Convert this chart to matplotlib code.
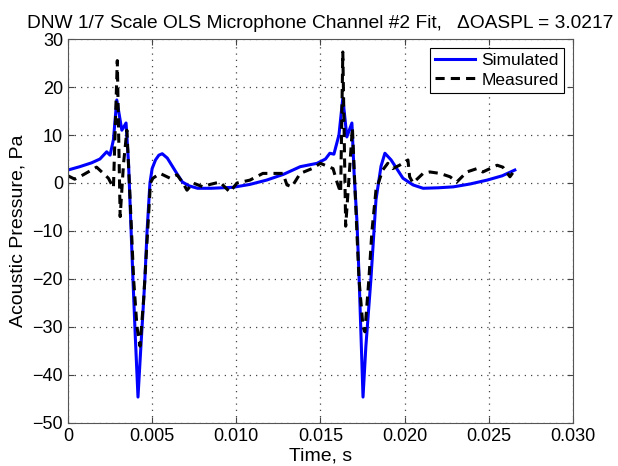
import numpy as np
import matplotlib
matplotlib.use("Agg")
import matplotlib.pyplot as plt

plt.rcParams['font.family'] = ['Liberation Sans', 'DejaVu Sans']

# simulated pressure signature (Pa) vs time (s)
t_sim = [0.0, 0.0007, 0.0014, 0.0019, 0.0023, 0.0025, 0.0027, 0.0029, 0.0032, 0.00345,
         0.0036, 0.00368, 0.00386, 0.0040, 0.00416, 0.0043, 0.00457, 0.0047, 0.00487,
         0.0050, 0.0052, 0.0054, 0.0056, 0.0059, 0.0062, 0.0065, 0.0068, 0.0072, 0.0077,
         0.0085, 0.0098, 0.0108, 0.0118, 0.0128, 0.0138, 0.0148, 0.0153, 0.01556, 0.0158,
         0.0161, 0.01633, 0.01657, 0.01687, 0.0170, 0.01717, 0.0173, 0.01753, 0.0177,
         0.0180, 0.0182, 0.0183, 0.0186, 0.01883, 0.0192, 0.0199, 0.0205, 0.0211,
         0.0220, 0.0229, 0.0239, 0.0249, 0.0258, 0.02655]
p_sim = [2.7, 3.4, 4.2, 5.0, 6.5, 5.8, 9.0, 17.3, 11.0, 12.5,
         4.0, -3.5, -20.0, -32.0, -44.6, -36.0, -20.0, -10.0, 0.0,
         3.0, 4.8, 5.8, 6.1, 5.2, 3.5, 1.8, 0.2, -0.6, -1.1,
         -1.1, -0.9, -0.3, 0.6, 1.8, 3.4, 4.1, 5.0, 6.2, 6.0,
         10.0, 17.7, 9.6, 12.5, 2.0, -8.0, -20.0, -44.6, -34.0,
         -20.0, -9.0, -3.5, 3.5, 6.2, 4.8, 1.0, -0.4, -1.1,
         -1.0, -0.8, -0.2, 0.6, 1.5, 2.7]

# measured microphone signal
t_meas = [0.0, 0.0004, 0.0008, 0.0013, 0.0017, 0.0021, 0.0024, 0.0027, 0.00293, 0.0031,
          0.0033, 0.0035, 0.0037, 0.0039, 0.0041, 0.00428, 0.0045, 0.0047, 0.0049,
          0.00505, 0.00547, 0.00606, 0.00648, 0.00683, 0.00707, 0.00743, 0.00802,
          0.00844, 0.00903, 0.00962, 0.01004, 0.01081, 0.01158, 0.01242, 0.01277,
          0.01301, 0.0133, 0.0138, 0.0145, 0.0150, 0.01575, 0.0160, 0.0162, 0.01633,
          0.0165, 0.0169, 0.0171, 0.01729, 0.01753, 0.01764, 0.01788, 0.01806, 0.0183,
          0.0187, 0.0190, 0.0193, 0.0197, 0.0202, 0.0203, 0.0205, 0.0211, 0.0215,
          0.0221, 0.0227, 0.0231, 0.0237, 0.0243, 0.02465, 0.0255, 0.02584, 0.02626,
          0.02655]
p_meas = [1.5, 0.8, 1.5, 2.5, 3.3, 2.0, 1.0, -1.0, 25.5, -7.0,
          4.0, 11.0, -4.0, -20.0, -30.0, -34.0, -24.0, -12.0, 0.0,
          1.0, 2.0, 1.0, 1.7, 0.0, -1.5, 0.0, -0.8,
          -0.3, 0.2, -1.9, 0.0, 0.6, 2.0, 2.0, 2.0,
          -0.4, -0.8, 2.0, 3.0, 4.1, 3.0, 0.0, -2.0, 27.3,
          -9.0, 11.5, -5.0, -20.0, -30.0, -31.0, -20.0, -10.0, -1.5,
          2.7, 4.1, 3.0, 3.7, 4.8, 1.3, 0.0, 2.0, 2.3,
          2.0, 1.3, 0.2, 2.3, 3.0, 2.3, 3.7, 3.3, 1.3,
          2.7]

x_ticks = [0, 0.005, 0.010, 0.015, 0.020, 0.025, 0.030]
x_labels = ['0', '0.005', '0.010', '0.015', '0.020', '0.025', '0.030']
y_ticks = [-50, -40, -30, -20, -10, 0, 10, 20, 30]

fig = plt.figure(figsize=(6.18, 4.66), dpi=100)
ax = fig.add_axes([0.110, 0.0923, 0.817, 0.824])

ax.plot(t_sim, p_sim, color='#0000ff', lw=2.2, label='Simulated')
ax.plot(t_meas, p_meas, color='black', lw=2.2, linestyle=(0, (3, 2)), label='Measured')

ax.set_xlim(0, 0.030)
ax.set_ylim(-50, 30)
ax.set_xticks(x_ticks)
ax.set_xticklabels(x_labels)
ax.set_yticks(y_ticks)
ax.tick_params(direction='in', top=True, right=True, labelsize=13, length=4, color='#444444')
ax.grid(True, linestyle=(0, (1, 4)), color='#444444', lw=0.9)
for s in ax.spines.values():
    s.set_color('#555555')

ax.set_xlabel('Time, s', fontsize=14, labelpad=2)
ax.set_ylabel('Acoustic Pressure, Pa', fontsize=14, labelpad=4)
ax.set_title('DNW 1/7 Scale OLS Microphone Channel #2 Fit,   \u0394OASPL = 3.0217',
             fontsize=13.8, pad=8)

leg = ax.legend(loc='upper right', fontsize=12.5, fancybox=False, framealpha=1,
                edgecolor='black', handlelength=2.3, borderaxespad=0.5,
                borderpad=0.3, labelspacing=0.25, handletextpad=0.4)
leg.get_frame().set_linewidth(0.8)

fig.savefig('out.png', dpi=100)
